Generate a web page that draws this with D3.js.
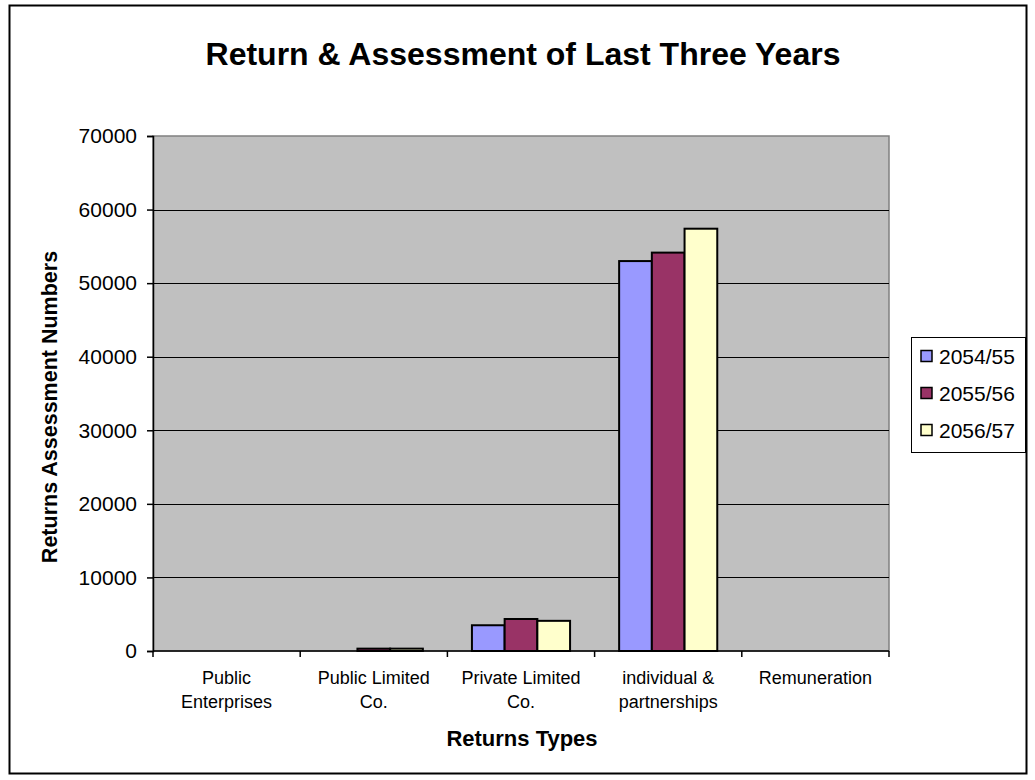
<!DOCTYPE html>
<html>
<head>
<meta charset="utf-8">
<script src="https://cdn.jsdelivr.net/npm/d3@7"></script>
<style>
  html, body { margin: 0; padding: 0; background: #fff; }
  svg { display: block; }
  text { font-family: "Liberation Sans", Arial, sans-serif; fill: #000; }
</style>
</head>
<body>
<svg id="chart" width="1035" height="780"></svg>
<script>
// Return types and the returns assessed in each fiscal year
const categories = ["Public Enterprises", "Public Limited Co.", "Private Limited Co.", "individual & partnerships", "Remuneration"];
const categoryLines = [["Public", "Enterprises"], ["Public Limited", "Co."], ["Private Limited", "Co."], ["individual &", "partnerships"], ["Remuneration"]];
const seriesNames = ["2054/55", "2055/56", "2056/57"];
const values2054 = [0, 0, 3500, 53000, 0];
const values2055 = [0, 320, 4350, 54150, 0];
const values2056 = [0, 320, 4100, 57400, 0];
const yTicks = [0, 10000, 20000, 30000, 40000, 50000, 60000, 70000];
const seriesColors = ["#9999FF", "#993366", "#FFFFCC"];

const seriesValues = [values2054, values2055, values2056];

const svg = d3.select("#chart");
const plot = { left: 153, right: 889, top: 136, bottom: 651 };

// Outer chart frame
svg.append("rect")
  .attr("x", 9.5).attr("y", 5.5).attr("width", 1017).attr("height", 768)
  .attr("fill", "#fff").attr("stroke", "#000").attr("stroke-width", 2);

// Title
svg.append("text")
  .attr("x", 523).attr("y", 65)
  .attr("text-anchor", "middle")
  .attr("font-size", 32).attr("font-weight", "bold")
  .text("Return & Assessment of Last Three Years");

const y = d3.scaleLinear().domain([0, 70000]).range([plot.bottom, plot.top]);
const x = d3.scaleBand().domain(categories).range([plot.left, plot.right]).paddingInner(0).paddingOuter(0);
// Bars of a group fill two thirds of each category slot (gap width 50%)
const groupWidth = x.bandwidth() / 1.5;
const xs = d3.scaleBand().domain(seriesNames).range([0, groupWidth]).padding(0);

// Plot background
svg.append("rect")
  .attr("x", plot.left).attr("y", plot.top)
  .attr("width", plot.right - plot.left).attr("height", plot.bottom - plot.top)
  .attr("fill", "#C0C0C0").attr("stroke", "#808080").attr("stroke-width", 1.5);

// Horizontal gridlines
svg.append("g")
  .selectAll("line")
  .data(yTicks.filter(t => t > 0 && t < 70000))
  .join("line")
  .attr("x1", plot.left).attr("x2", plot.right)
  .attr("y1", d => Math.round(y(d)) + 0.5).attr("y2", d => Math.round(y(d)) + 0.5)
  .attr("stroke", "#000").attr("stroke-width", 1);

// Bars
const groups = svg.append("g")
  .selectAll("g")
  .data(categories)
  .join("g")
  .attr("transform", d => `translate(${x(d) + (x.bandwidth() - groupWidth) / 2},0)`);

groups.selectAll("rect")
  .data((c, i) => seriesNames.map((s, j) => ({ s, v: seriesValues[j][i], color: seriesColors[j] })).filter(d => d.v > 0))
  .join("rect")
  .attr("x", d => xs(d.s))
  .attr("y", d => y(d.v))
  .attr("width", xs.bandwidth())
  .attr("height", d => y(0) - y(d.v))
  .attr("fill", d => d.color)
  .attr("stroke", "#000").attr("stroke-width", 2);

// Y axis
const yAxis = svg.append("g")
  .attr("transform", `translate(${plot.left},0)`)
  .call(d3.axisLeft(y).tickValues(yTicks).tickSize(6).tickPadding(10).tickFormat(d3.format("d")));
yAxis.select(".domain").attr("stroke", "#000").attr("stroke-width", 1.5);
yAxis.selectAll(".tick line").attr("stroke", "#000").attr("stroke-width", 1.5);
yAxis.selectAll(".tick text").attr("font-size", 21).attr("font-family", "Liberation Sans, Arial, sans-serif");

// X axis with ticks at category boundaries
const boundaries = categories.map(c => x(c)).concat([plot.right]);
const xAxis = svg.append("g");
xAxis.append("line")
  .attr("x1", plot.left).attr("x2", plot.right)
  .attr("y1", plot.bottom).attr("y2", plot.bottom)
  .attr("stroke", "#000").attr("stroke-width", 1.5);
xAxis.selectAll("line.tick")
  .data(boundaries)
  .join("line")
  .attr("class", "tick")
  .attr("x1", d => d).attr("x2", d => d)
  .attr("y1", plot.bottom).attr("y2", plot.bottom + 6)
  .attr("stroke", "#000").attr("stroke-width", 1.5);

// Category labels
const labels = svg.append("g")
  .selectAll("text")
  .data(categories)
  .join("text")
  .attr("x", d => x(d) + x.bandwidth() / 2)
  .attr("y", 684)
  .attr("text-anchor", "middle")
  .attr("font-size", 18);
labels.selectAll("tspan")
  .data((d, i) => categoryLines[i])
  .join("tspan")
  .attr("x", function () { return this.parentNode.getAttribute("x"); })
  .attr("dy", (d, i) => i === 0 ? 0 : 24)
  .text(d => d);

// Axis titles
svg.append("text")
  .attr("x", 522).attr("y", 746)
  .attr("text-anchor", "middle")
  .attr("font-size", 22).attr("font-weight", "bold")
  .text("Returns Types");

svg.append("text")
  .attr("transform", "translate(57,407) rotate(-90)")
  .attr("text-anchor", "middle")
  .attr("font-size", 21.5).attr("font-weight", "bold")
  .text("Returns Assessment Numbers");

// Legend
const legend = svg.append("g");
legend.append("rect")
  .attr("x", 911.5).attr("y", 337.5).attr("width", 114).attr("height", 115)
  .attr("fill", "#fff").attr("stroke", "#000").attr("stroke-width", 1);
const item = legend.selectAll("g.item")
  .data(seriesNames)
  .join("g")
  .attr("class", "item")
  .attr("transform", (d, i) => `translate(0,${356 + i * 37})`);
item.append("rect")
  .attr("x", 921).attr("y", -5.5).attr("width", 11).attr("height", 11)
  .attr("fill", (d, i) => seriesColors[i])
  .attr("stroke", "#000").attr("stroke-width", 1.5);
item.append("text")
  .attr("x", 939).attr("y", 7.5)
  .attr("font-size", 21)
  .text(d => d);
</script>
</body>
</html>
